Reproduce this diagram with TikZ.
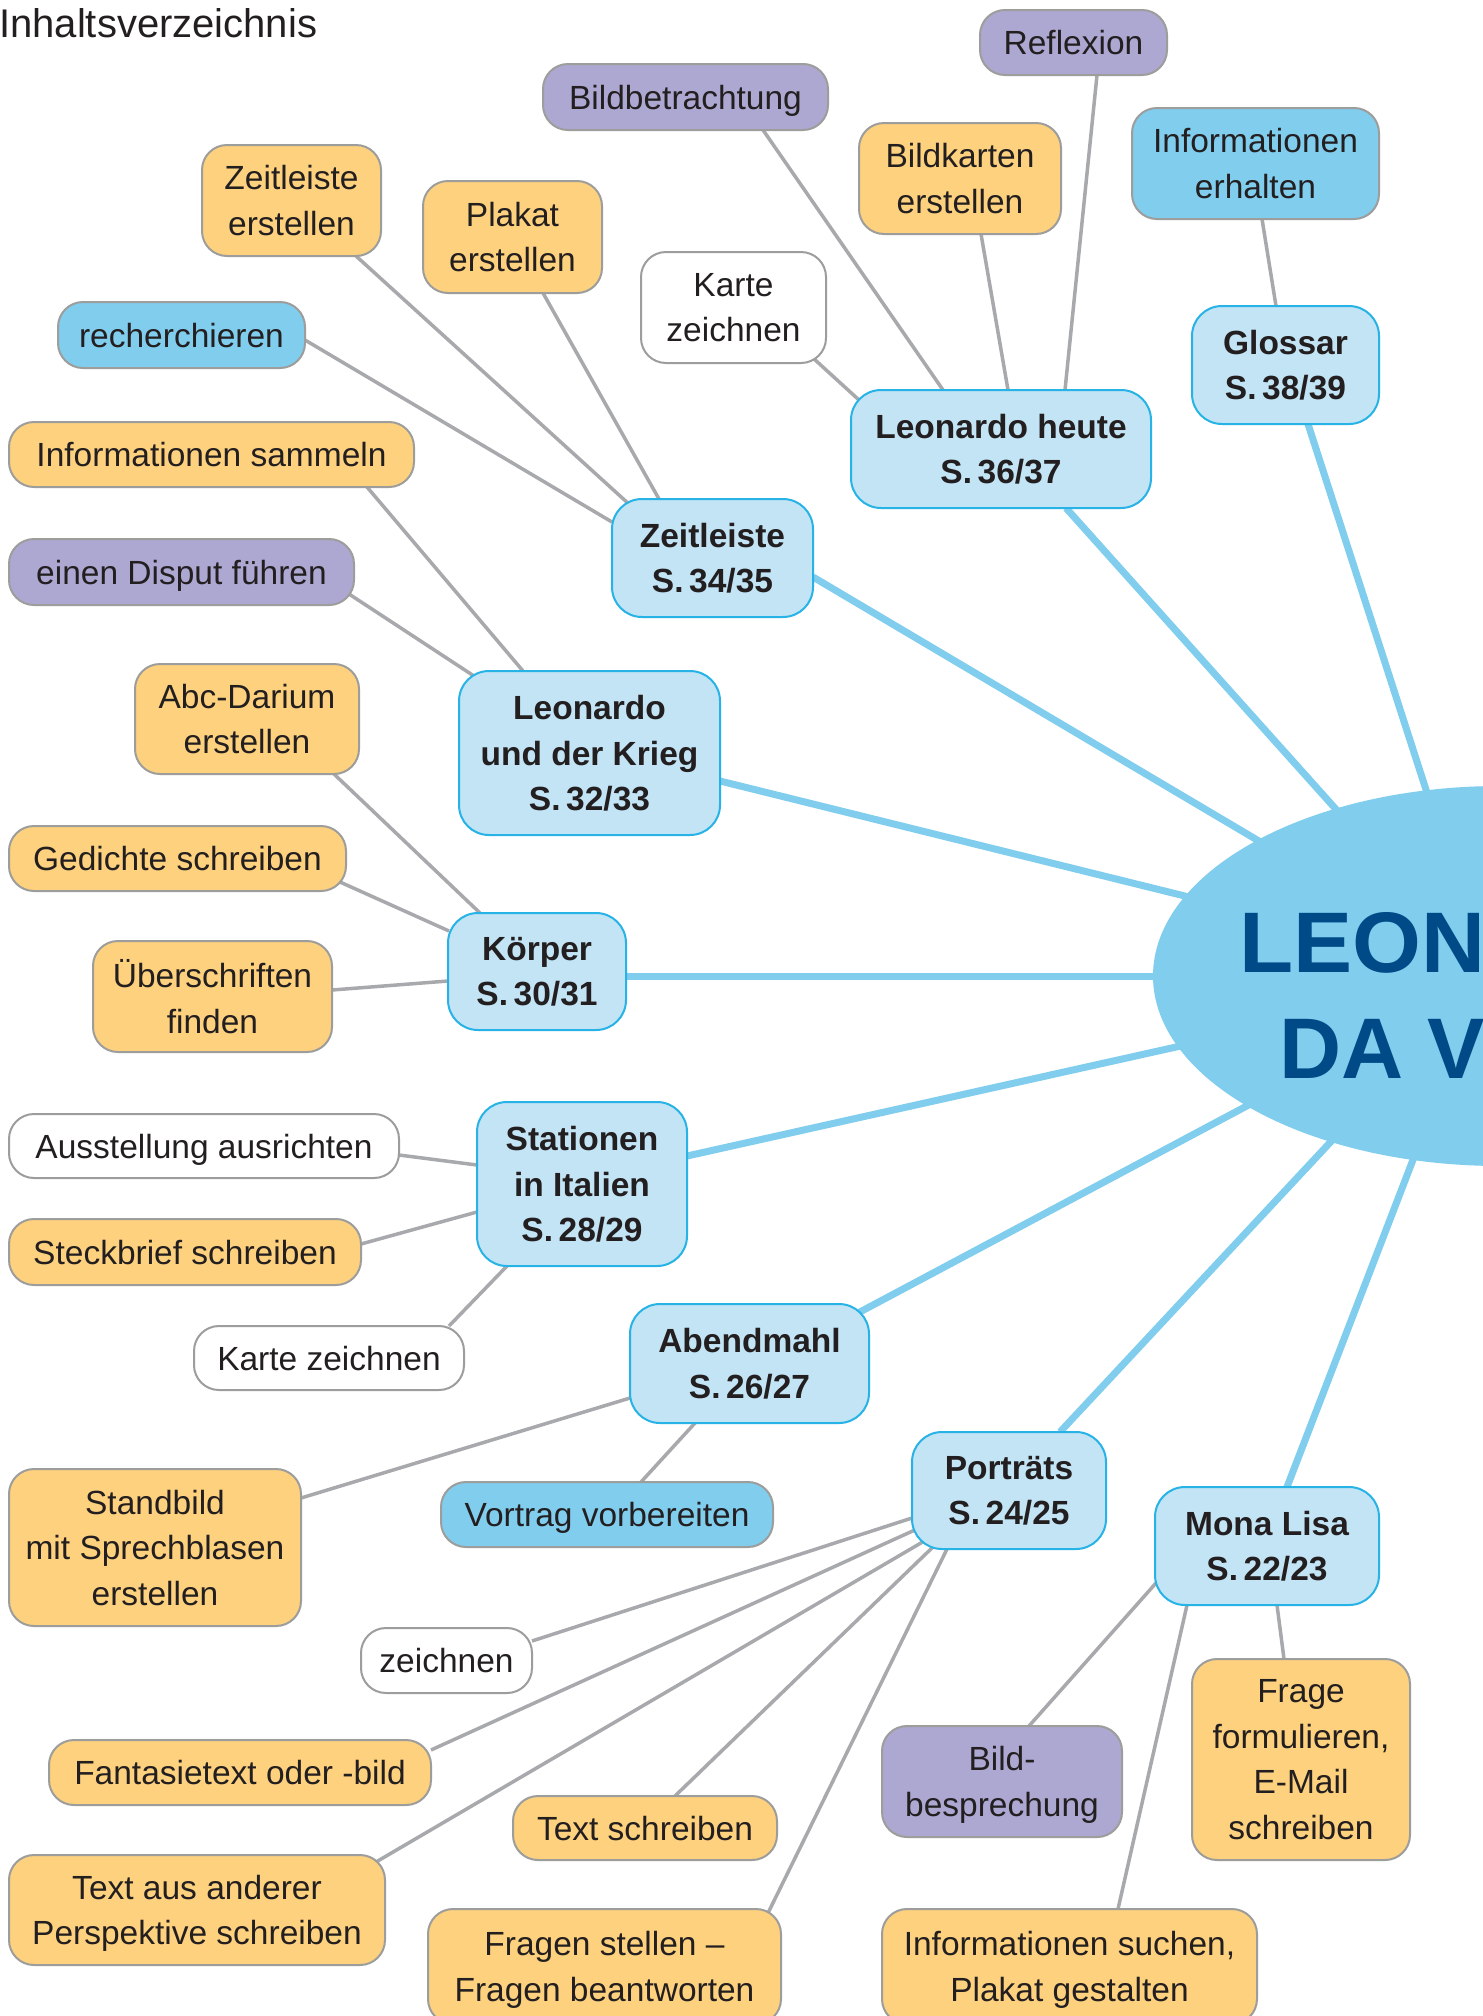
\documentclass[tikz,border=0pt]{standalone}
\usepackage{fontspec}
\usepackage{graphicx}
\setmainfont{Liberation Sans}
\usetikzlibrary{shapes.geometric,calc,backgrounds}
\definecolor{txt}{HTML}{231F20}
\definecolor{orangefill}{HTML}{FDD17E}
\definecolor{purplefill}{HTML}{ADA8D1}
\definecolor{bluefill}{HTML}{80CDEE}
\definecolor{topicfill}{HTML}{C2E4F5}
\definecolor{topicborder}{HTML}{27B3E6}
\definecolor{bordergray}{HTML}{9D9D9C}
\definecolor{linegray}{HTML}{A7A9AC}
\definecolor{darkblue}{HTML}{004A87}
\tikzset{
  box/.style={draw=bordergray, line width=2, rounded corners=25, inner sep=0,
    align=center, text=txt, text depth=0pt, font=\fontsize{33.5}{45.5}\selectfont},
  orangebox/.style={box, fill=orangefill},
  purplebox/.style={box, fill=purplefill},
  bluebox/.style={box, fill=bluefill},
  whitebox/.style={box, fill=white},
  topic/.style={box, draw=topicborder, fill=topicfill, rounded corners=30,
    font=\fontsize{33.5}{45.5}\selectfont\bfseries},
  sz/.style 2 args={minimum width=#1, minimum height=#2},
  gline/.style={draw=linegray, line width=3.5},
  bline/.style={draw=bluefill, line width=7},
  bigtext/.style={anchor=base west, inner sep=0, text=darkblue,
    font=\fontsize{86}{106}\selectfont\bfseries},
}
\begin{document}
\begin{tikzpicture}[x=1pt,y=-1pt]
\useasboundingbox (0,0) rectangle (1483,2016);

% title
\node[anchor=base west, inner sep=0, text=txt, font=\fontsize{40}{46}\selectfont] (title) at (-1,37) {Inhaltsverzeichnis};

% central ellipse
\node[ellipse, fill=bluefill, minimum width=694, minimum height=380, inner sep=0] (ell) at (1500,976) {};
\node[bigtext] (leo1) at (1239,972) {\scalebox{1.03}[1]{LEONARDO}};
\node[bigtext] (leo2) at (1279,1078) {DA VINCI};

% topics
\node[topic, sz={187}{118}] (glossar) at (1285.5,365) {Glossar\\S.\,38/39};
\node[topic, sz={300}{118}] (lheute) at (1001,449) {Leonardo heute\\S.\,36/37};
\node[topic, sz={201}{118}] (zeit) at (712.5,558) {Zeitleiste\\S.\,34/35};
\node[topic, sz={261}{164}] (krieg) at (589.5,753) {Leonardo\\und der Krieg\\S.\,32/33};
\node[topic, sz={178}{117}] (koerper) at (537,971.5) {Körper\\S.\,30/31};
\node[topic, sz={210}{164}] (stat) at (582,1184) {Stationen\\in Italien\\S.\,28/29};
\node[topic, sz={239}{119}] (abend) at (749.5,1363.5) {Abendmahl\\S.\,26/27};
\node[topic, sz={194}{117}] (portr) at (1009,1490.5) {Porträts\\S.\,24/25};
\node[topic, sz={224}{118}] (mona) at (1267,1546) {Mona Lisa\\S.\,22/23};

% activities
\node[purplebox, sz={187}{65}] (refl) at (1073.5,42.5) {Reflexion};
\node[purplebox, sz={285}{66}] (bildb) at (685.5,97) {Bildbetrachtung};
\node[bluebox, sz={247}{111}] (infoerh) at (1255.5,163.5) {Informationen\\erhalten};
\node[orangebox, sz={202}{111}] (bildk) at (960,178.5) {Bildkarten\\erstellen};
\node[orangebox, sz={179}{111}] (zeite) at (291.5,200.5) {Zeitleiste\\erstellen};
\node[orangebox, sz={179}{112}] (plakat) at (512.5,237) {Plakat\\erstellen};
\node[whitebox, sz={185}{111}] (karte1) at (733.5,307.5) {Karte\\zeichnen};
\node[bluebox, sz={247}{66}] (rech) at (181.5,335) {recherchieren};
\node[orangebox, sz={405}{65}] (infos) at (211.5,454.5) {Informationen sammeln};
\node[purplebox, sz={345}{66}] (disput) at (181.5,572) {einen Disput führen};
\node[orangebox, sz={224}{110}] (abc) at (247,719) {Abc-Darium\\erstellen};
\node[orangebox, sz={337}{65}] (gedichte) at (177.5,858.5) {Gedichte schreiben};
\node[orangebox, sz={239}{111}] (ueber) at (212.5,996.5) {Überschriften\\finden};
\node[whitebox, sz={390}{64}] (ausst) at (204,1146) {Ausstellung ausrichten};
\node[orangebox, sz={352}{66}] (steck) at (185,1252) {Steckbrief schreiben};
\node[whitebox, sz={270}{64}] (karte2) at (329,1358) {Karte zeichnen};
\node[orangebox, sz={292}{157}] (standb) at (155,1547.5) {Standbild\\mit Sprechblasen\\erstellen};
\node[bluebox, sz={332}{65}] (vortrag) at (607,1514.5) {Vortrag vorbereiten};
\node[whitebox, sz={171}{65}] (zeichnen) at (446.5,1660.5) {zeichnen};
\node[orangebox, sz={382}{65}] (fant) at (240,1772.5) {Fantasietext oder -bild};
\node[purplebox, sz={240}{111}] (bildbesp) at (1002,1781.5) {Bild-\\besprechung};
\node[orangebox, sz={218}{201}] (frage) at (1301,1759.5) {Frage\\formulieren,\\E-Mail\\schreiben};
\node[orangebox, sz={264}{64}] (texts) at (645,1828) {Text schreiben};
\node[orangebox, sz={376}{110}] (textaus) at (197,1910) {Text aus anderer\\Perspektive schreiben};
\node[orangebox, sz={353}{115}] (fragen) at (604.5,1966.5) {Fragen stellen –\\Fragen beantworten};
\node[orangebox, sz={375}{115}] (infosuch) at (1069.5,1966.5) {Informationen suchen,\\Plakat gestalten};

\begin{pgfonlayer}{background}
\fill[white] (0,0) rectangle (1483,2016);
% blue connectors
\draw[bline] ($(glossar)+(22.5,59)$) -- ($(ell)+(-71,-177)$);
\draw[bline] ($(lheute)+(65,59)$) -- ($(ell)+(-158,-160)$);
\draw[bline] ($(zeit)+(100.5,19)$) -- ($(ell)+(-231,-129)$);
\draw[bline] ($(krieg)+(130.5,28)$) -- ($(ell)+(-299,-76)$);
\draw[bline] ($(koerper)+(89,4.5)$) -- ($(ell)+(-330,0)$);
\draw[bline] ($(stat)+(105,-28)$) -- ($(ell)+(-306,67)$);
\draw[bline] ($(abend)+(108.5,-50.5)$) -- ($(ell)+(-242,124)$);
\draw[bline] ($(portr)+(51,-58.5)$) -- ($(ell)+(-162,158)$);
\draw[bline] ($(mona)+(20,-59)$) -- ($(ell)+(-84,176)$);
% gray connectors
\draw[gline] ($(refl)+(23.5,32.5)$) -- ($(lheute)+(64,-59)$);
\draw[gline] ($(bildb)+(77.5,33)$) -- ($(lheute)+(-58,-59)$);
\draw[gline] ($(bildk)+(21,55.5)$) -- ($(lheute)+(7,-59)$);
\draw[gline] ($(karte1)+(79.5,50.5)$) -- ($(lheute)+(-142,-49)$);
\draw[gline] ($(infoerh)+(6.5,55.5)$) -- ($(glossar)+(-9.5,-59)$);
\draw[gline] ($(zeite)+(64.5,55.5)$) -- ($(zeit)+(-82.5,-53)$);
\draw[gline] ($(plakat)+(30.5,56)$) -- ($(zeit)+(-53.5,-59)$);
\draw[gline] ($(rech)+(123.5,5)$) -- ($(zeit)+(-100.5,-36)$);
\draw[gline] ($(infos)+(155.5,32.5)$) -- ($(krieg)+(-66.5,-82)$);
\draw[gline] ($(disput)+(167.5,22)$) -- ($(krieg)+(-112.5,-75)$);
\draw[gline] ($(abc)+(87,55)$) -- ($(koerper)+(-57,-58.5)$);
\draw[gline] ($(gedichte)+(162.5,23.5)$) -- ($(koerper)+(-88,-40.5)$);
\draw[gline] ($(ueber)+(119.5,-6.5)$) -- ($(koerper)+(-89,9.5)$);
\draw[gline] ($(ausst)+(195,9)$) -- ($(stat)+(-105,-19)$);
\draw[gline] ($(steck)+(176,-8)$) -- ($(stat)+(-105,28)$);
\draw[gline] ($(karte2)+(120,-32)$) -- ($(stat)+(-75,82)$);
\draw[gline] ($(standb)+(146,-49.5)$) -- ($(abend)+(-119.5,34.5)$);
\draw[gline] ($(vortrag)+(34,-32.5)$) -- ($(abend)+(-54.5,59.5)$);
\draw[gline] ($(zeichnen)+(85.5,-19.5)$) -- ($(portr)+(-97,27.5)$);
\draw[gline] ($(fant)+(191,-22.5)$) -- ($(portr)+(-92,38.5)$);
\draw[gline] ($(textaus)+(179,-48)$) -- ($(portr)+(-83,49.5)$);
\draw[gline] ($(texts)+(30,-32)$) -- ($(portr)+(-74,54.5)$);
\draw[gline] ($(fragen)+(163.5,-53.5)$) -- ($(portr)+(-62,58.5)$);
\draw[gline] ($(bildbesp)+(27,-55.5)$) -- ($(mona)+(-111,37)$);
\draw[gline] ($(infosuch)+(48.5,-57.5)$) -- ($(mona)+(-80,59)$);
\draw[gline] ($(frage)+(-17,-100.5)$) -- ($(mona)+(10,59)$);
\end{pgfonlayer}
\end{tikzpicture}
\end{document}
